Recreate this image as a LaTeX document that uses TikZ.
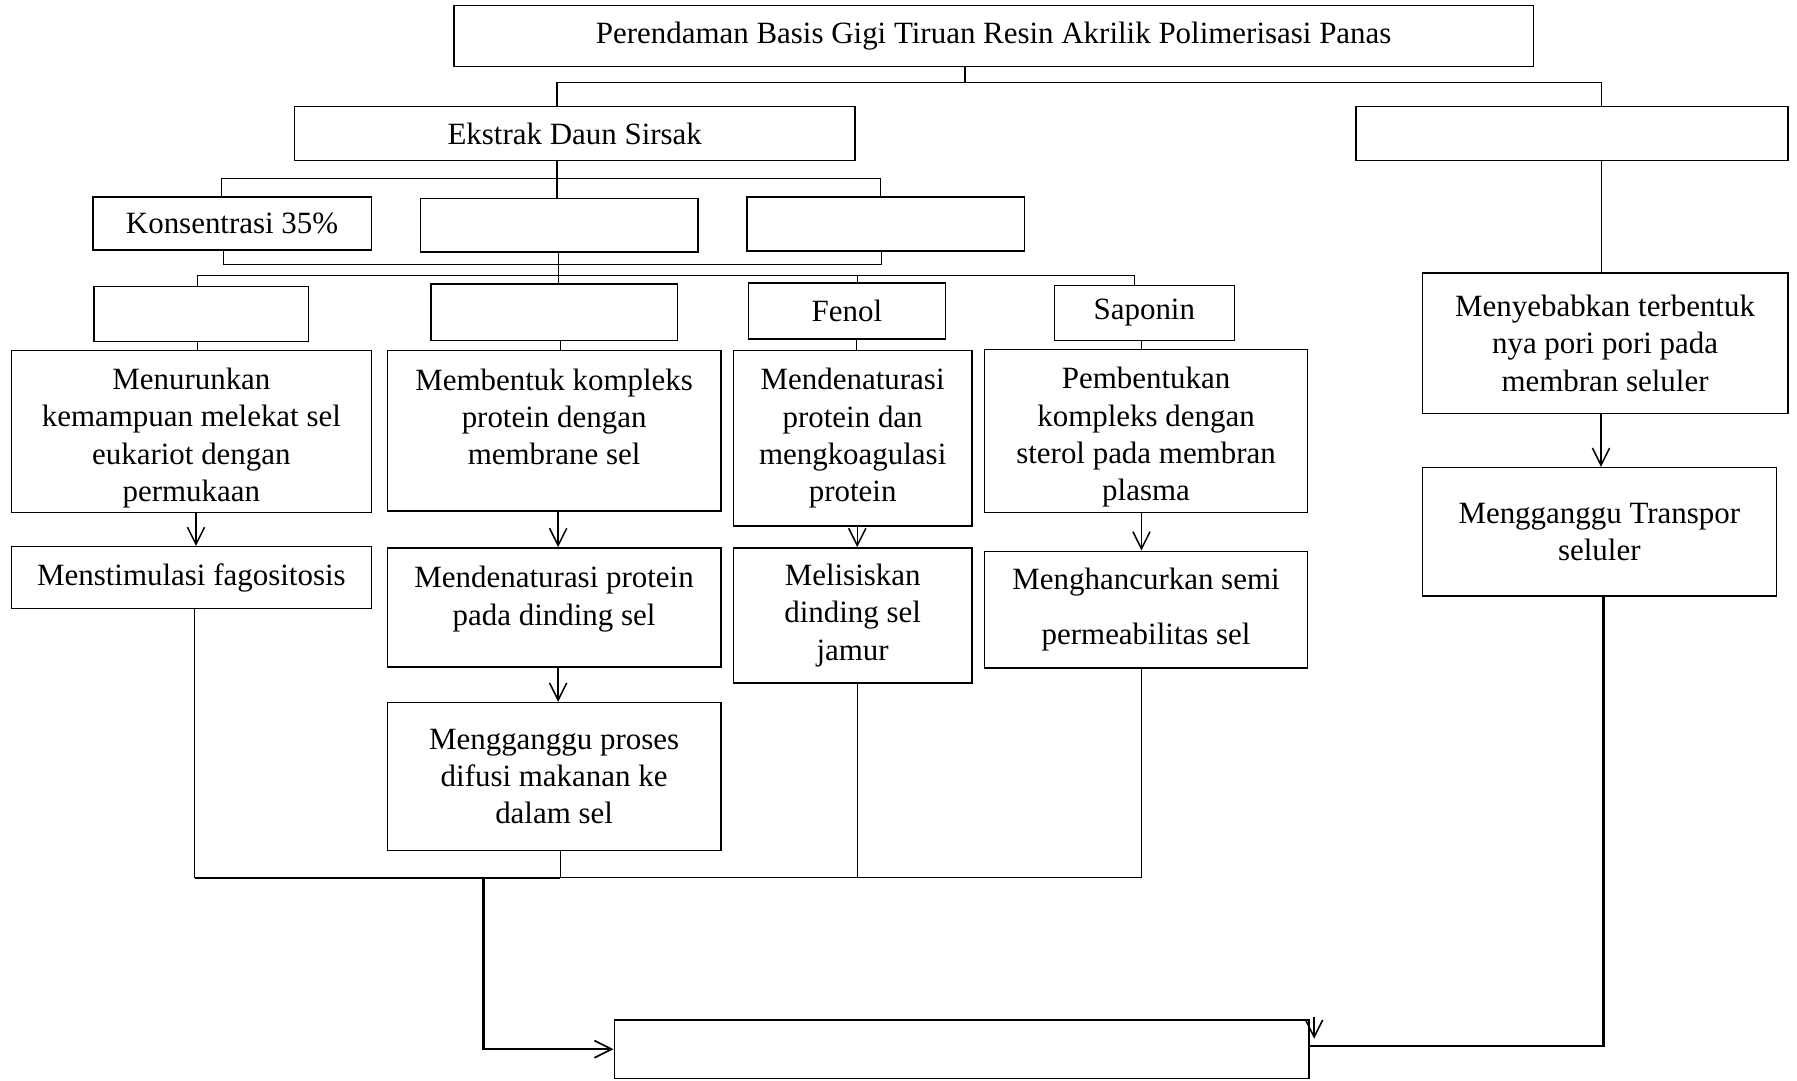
\documentclass[tikz,border=0pt]{standalone}
\usepackage{fontspec}
\setmainfont{Liberation Serif}
\usetikzlibrary{arrows.meta}
\begin{document}
\begin{tikzpicture}[x=1pt,y=-1pt,
  box/.style={draw, line width=1.3pt, inner sep=0pt, align=center, font=\fontsize{27}{32.5}\selectfont},
  conn/.style={line width=0.9pt},
  arr/.style={line width=1.3pt, -{Straight Barb[length=15pt,width=15pt,line width=1.3pt]}},
  thickarr/.style={line width=2.2pt, -{Straight Barb[length=15pt,width=15pt,line width=1.5pt]}}]
\useasboundingbox (0,0) rectangle (1568,943);
% boxes
\node[box, minimum width=942pt, minimum height=53pt] (top) at (867,31.5) {Perendaman Basis Gigi Tiruan Resin Akrilik Polimerisasi Panas};
\node[box, minimum width=489pt, minimum height=47pt] (ekstrak) at (501.5,116.5) {Ekstrak Daun Sirsak};
\node[box, minimum width=377pt, minimum height=47pt] (rightE) at (1371.5,116.5) {};
\node[box, minimum width=243pt, minimum height=46pt] (kons) at (202.5,195) {Konsentrasi 35\%};
\node[box, minimum width=242pt, minimum height=47pt] (e2) at (488,196.5) {};
\node[box, minimum width=242pt, minimum height=47pt] (e3) at (773,195.5) {};
\node[box, minimum width=187pt, minimum height=48pt] (eA) at (175.5,274) {};
\node[box, minimum width=215pt, minimum height=49pt] (eB) at (483.5,272.5) {};
\node[box, minimum width=172pt, minimum height=49pt] (fenol) at (739,271.5) {Fenol};
\node[box, minimum width=157pt, minimum height=48pt] (saponin) at (998.5,273) {Saponin};
\node[box, minimum width=314pt, minimum height=141pt] (menurunkan) at (167,376.5) {\rule{0pt}{30pt}Menurunkan\\kemampuan melekat sel\\eukariot dengan\\permukaan};
\node[box, minimum width=291pt, minimum height=140pt] (membentuk) at (483.5,376) {Membentuk kompleks\\protein dengan\\membrane sel\\[-8pt]\mbox{}};
\node[box, minimum width=208pt, minimum height=153pt] (mendenat) at (744,382.5) {Mendenaturasi\\protein dan\\mengkoagulasi\\protein};
\node[box, minimum width=282pt, minimum height=142pt] (pembentukan) at (1000,376) {\rule{0pt}{30pt}Pembentukan\\kompleks dengan\\sterol pada membran\\plasma};
\node[box, minimum width=319pt, minimum height=123pt] (menyebabkan) at (1400.5,299.5) {Menyebabkan terbentuk\\nya pori pori pada\\membran seluler};
\node[box, minimum width=309pt, minimum height=112pt] (transpor) at (1395.5,464) {Mengganggu Transpor\\seluler};
\node[box, minimum width=314pt, minimum height=54pt] (menstimulasi) at (167,504) {Menstimulasi fagositosis};
\node[box, minimum width=291pt, minimum height=104pt] (mendprot) at (483.5,530) {Mendenaturasi protein\\pada dinding sel\\[-12pt]\mbox{}};
\node[box, minimum width=291pt, minimum height=129pt] (proses) at (483.5,677.5) {Mengganggu proses\\difusi makanan ke\\dalam sel};
\node[box, minimum width=208pt, minimum height=118pt] (melisiskan) at (744,537) {Melisiskan\\dinding sel\\jamur};
\node[box, minimum width=282pt, minimum height=102pt] (menghancurkan) at (1000,532) {Menghancurkan semi\\[16pt]permeabilitas sel};
\node[box, minimum width=606pt, minimum height=51pt] (bottom) at (839,915.5) {};
% helper coordinates
\coordinate (h1) at (842,72);
\coordinate (h2) at (486,156);
\coordinate (h3) at (486,231);
\coordinate (h4) at (487,240);
\coordinate (c1) at (489,766);
\coordinate (c2) at (422,766);
% top level
\draw[conn] ([xshift=-25pt]top.south) -- ([xshift=-25pt]top.south |- h1);
\draw[conn] ([xshift=-15.5pt]ekstrak.north) |- ([xshift=25.5pt]rightE.north |- h1) -- ([xshift=25.5pt]rightE.north);
% ekstrak to concentrations
\draw[conn] ([xshift=-15.5pt]ekstrak.south) -- ([xshift=-2pt]e2.north);
\draw[conn] ([xshift=-9.5pt]kons.north) |- (h2) -| ([xshift=-5pt]e3.north);
\draw[conn] ([xshift=-7.5pt]kons.south) |- (h3) -| ([xshift=-4pt]e3.south);
\draw[conn] ([xshift=-1pt]e2.south) -- ([xshift=3.5pt]eB.north);
\draw[conn] ([xshift=-3.5pt]eA.north) |- (h4) -| ([xshift=-8.5pt]saponin.north);
\draw[conn] ([xshift=9pt]fenol.north) -- ([xshift=9pt]fenol.north |- h4);
% compounds to effects
\draw[conn] ([xshift=-3.5pt]eA.south) -- ([xshift=-3.5pt]eA.south |- menurunkan.north);
\draw[conn] ([xshift=5.5pt]eB.south) -- ([xshift=5.5pt]eB.south |- membentuk.north);
\draw[conn] ([xshift=8pt]fenol.south) -- ([xshift=8pt]fenol.south |- mendenat.north);
\draw[conn] ([xshift=-2.5pt]saponin.south) -- ([xshift=-2.5pt]saponin.south |- pembentukan.north);
\draw[conn] ([xshift=25.5pt]rightE.south) -- ([xshift=-3.5pt]menyebabkan.north);
% arrows
\draw[arr] ([xshift=4pt]menurunkan.south) -- ([xshift=4pt]menstimulasi.north);
\draw[arr] ([xshift=3.5pt]membentuk.south) -- ([xshift=3.5pt]mendprot.north);
\draw[arr] ([xshift=3.5pt]mendprot.south) -- ([xshift=3.5pt]proses.north);
\draw[arr] ([xshift=4pt]mendenat.south) -- ([xshift=4pt]melisiskan.north);
\draw[arr] ([xshift=-4pt]pembentukan.south) -- ([xshift=-4pt]menghancurkan.north);
\draw[arr] ([xshift=-3.5pt]menyebabkan.south) -- ([xshift=1.5pt]transpor.north);
% collector
\draw[conn] ([xshift=3pt]menstimulasi.south) |- (c1) -| ([xshift=-4pt]menghancurkan.south);
\draw[conn] ([xshift=5.5pt]proses.south) -- ([xshift=5.5pt]proses.south |- c1);
\draw[conn] ([xshift=4pt]melisiskan.south) -- ([xshift=4pt]melisiskan.south |- c1);
\draw[line width=1.3pt] ([xshift=3pt]menstimulasi.south |- c1) -- (c1);
\draw[thickarr] (c2) |- (bottom.west);
\draw[line width=2.2pt] ([xshift=3.5pt]transpor.south) |- ([yshift=3pt]bottom.east);
\draw[arr] ([xshift=4pt,yshift=2pt]bottom.north east) -- ([xshift=4pt,yshift=-17pt]bottom.north east);
\end{tikzpicture}
\end{document}
